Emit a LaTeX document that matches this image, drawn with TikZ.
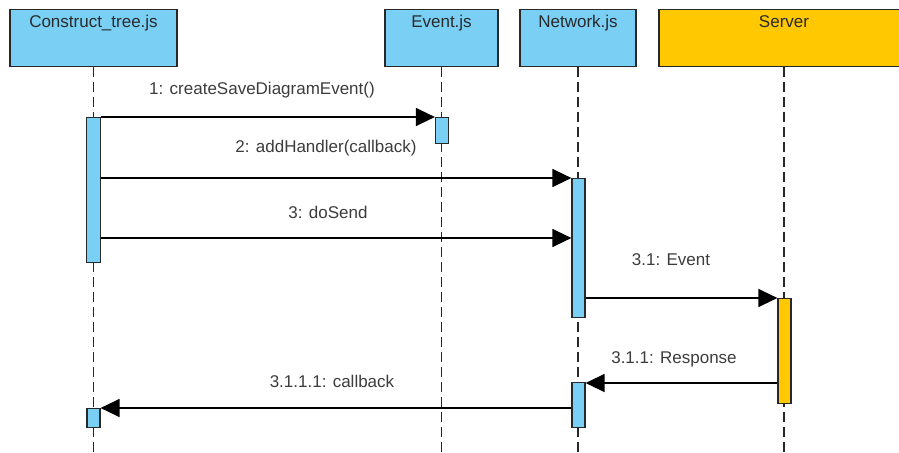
\documentclass[tikz,border=0pt]{standalone}
\usepackage{fontspec}
\setmainfont{Liberation Sans}
\usetikzlibrary{arrows.meta}
\definecolor{vpblue}{RGB}{122,207,245}
\definecolor{vpgold}{RGB}{255,200,0}
\definecolor{vptext}{RGB}{60,60,60}
\definecolor{vpline}{RGB}{40,40,40}
\begin{document}
\begin{tikzpicture}[x=0.75pt,y=-0.75pt,
  every node/.style={font=\fontsize{12.75pt}{15pt}\selectfont},
  header/.style={draw=vpline, line width=0.9pt, anchor=north, minimum height=42.75pt, inner sep=0pt},
  headtext/.style={anchor=base, inner sep=0pt, text=vptext!70!black},
  lifeline/.style={draw=vpline, line width=0.9pt, dash pattern=on 7.5pt off 3.75pt},
  act/.style={draw=vpline, line width=0.9pt, anchor=north, minimum width=9.75pt, inner sep=0pt},
  msg/.style={draw=black, line width=1pt, -{Triangle[length=14.25pt,width=13.5pt]}},
  msgtext/.style={anchor=base, inner sep=0pt, text=vptext}
]
\useasboundingbox (0,0) rectangle (899,453);
\coordinate (bottom) at (0,455);

% headers
\node[header, fill=vpblue, minimum width=125.25pt] (ct) at (93.5,9) {};
\node[header, fill=vpblue, minimum width=84.75pt] (ev) at (441.5,9) {};
\node[header, fill=vpblue, minimum width=87pt] (nw) at (578,9) {};
\node[header, fill=vpgold, minimum width=187.5pt] (sv) at (784,9) {};

\node[headtext] (ctt) at (93.5,28) {Construct\_tree.js};
\node[headtext] (evt) at (441.5,28) {Event.js};
\node[headtext] (nwt) at (578,28) {Network.js};
\node[headtext] (svt) at (784,28) {Server};

% lifelines
\draw[lifeline] (ct.south) -- (ct.south |- bottom);
\draw[lifeline] (ev.south) -- (ev.south |- bottom);
\draw[lifeline] (nw.south) -- (nw.south |- bottom);
\draw[lifeline] (sv.south) -- (sv.south |- bottom);

% activations
\node[act, fill=vpblue, minimum width=10.5pt, minimum height=108.75pt] (a1) at (93.5,117) {};
\node[act, fill=vpblue, minimum height=19.5pt] (e1) at (442,117) {};
\node[act, fill=vpblue, minimum height=104.25pt] (n1) at (578.5,178) {};
\node[act, fill=vpgold, minimum height=78.75pt] (s1) at (784.5,298) {};
\node[act, fill=vpblue, minimum height=33.75pt] (n2) at (578.5,382) {};
\node[act, fill=vpblue, minimum height=14.25pt] (a2) at (93.5,408) {};

% message heights
\coordinate (m1) at (0,117);
\coordinate (m2) at (0,178);
\coordinate (m3) at (0,238);
\coordinate (m4) at (0,298);
\coordinate (m5) at (0,383);
\coordinate (m6) at (0,408);

% messages
\draw[msg] (a1.east |- m1) -- (e1.west |- m1);
\draw[msg] (a1.east |- m2) -- (n1.west |- m2);
\draw[msg] (a1.east |- m3) -- (n1.west |- m3);
\draw[msg] (n1.east |- m4) -- (s1.west |- m4);
\draw[msg] (s1.west |- m5) -- (n2.east |- m5);
\draw[msg] (n2.west |- m6) -- (a2.east |- m6);

% message labels
\node[msgtext] (l1) at (262,94) {1: createSaveDiagramEvent()};
\node[msgtext] (l2) at (326,152) {2: addHandler(callback)};
\node[msgtext] (l3) at (328,218) {3: doSend};
\node[msgtext] (l4) at (671,265) {3.1: Event};
\node[msgtext] (l5) at (674,363) {3.1.1: Response};
\node[msgtext] (l6) at (332,387) {3.1.1.1: callback};
\end{tikzpicture}
\end{document}
